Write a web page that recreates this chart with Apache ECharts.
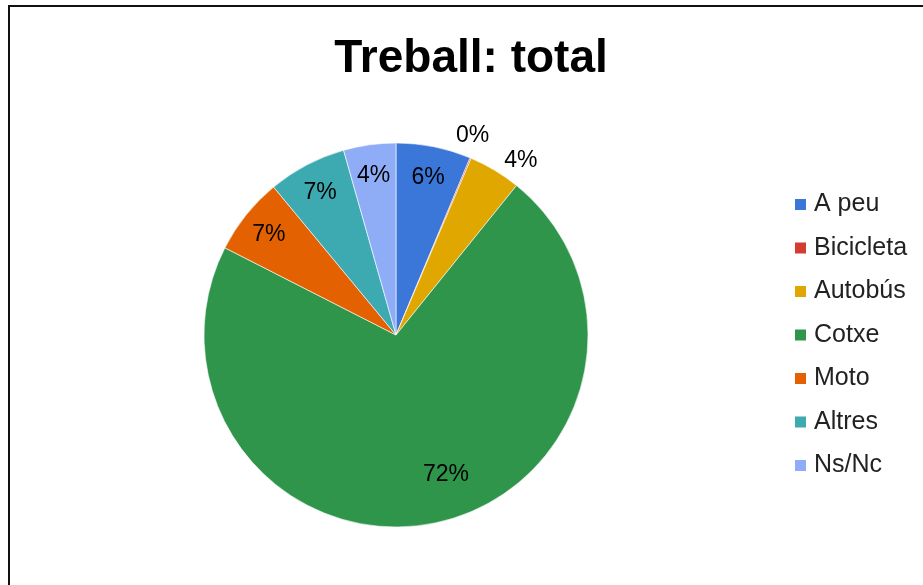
<!DOCTYPE html>
<html>
<head>
<meta charset="utf-8">
<title>Treball: total</title>
<script src="https://cdn.jsdelivr.net/npm/echarts@6/dist/echarts.min.js"></script>
<style>
  html, body { margin: 0; padding: 0; background: #fff; }
  #chart { width: 923px; height: 585px; }
</style>
</head>
<body>
<div id="chart"></div>
<script>
// Mode of transport used to get to work (share of total, %)
const categories = ['A peu', 'Bicicleta', 'Autobús', 'Cotxe', 'Moto', 'Altres', 'Ns/Nc'];
const shares = [6.3, 0.1, 4.4, 71.7, 6.5, 6.6, 4.4];
const colors = ['#3b76d9', '#d23c31', '#e0a700', '#2f954b', '#e36100', '#3da9b0', '#8fadf7'];
// slices too thin to hold their own label get it placed just outside the pie
const outsideLabel = ['Bicicleta', 'Autobús'];

const titleText = 'Treball: total';
const FONT = 'Liberation Sans, Arial, sans-serif';
const LABEL_SIZE = 23;

const chart = echarts.init(document.getElementById('chart'), null, { renderer: 'canvas' });

const pctLabel = p => Math.round(p.percent) + '%';

// small nudges so the outside texts and the big slice's text sit where they read best
const labelNudge = { 'Bicicleta': [-25, -10], 'Autobús': [-19, -11], 'Cotxe': [16, -20] };

const pieData = categories.map((name, i) => ({
  name,
  value: shares[i],
  itemStyle: { color: colors[i] },
  label: outsideLabel.includes(name)
    ? { show: true, position: 'outside', formatter: pctLabel,
        color: '#000', fontSize: LABEL_SIZE, fontFamily: FONT,
        offset: labelNudge[name] || [0, 0] }
    : { show: false }
}));

// transparent ring used only to place the in-slice percentages along each bisector
const innerLabels = {
  type: 'pie',
  silent: true,
  center: [396, 335],
  radius: [128, 192],
  startAngle: 90,
  clockwise: true,
  legendHoverLink: false,
  emphasis: { disabled: true },
  labelLine: { show: false },
  data: categories.map((name, i) => ({
    name,
    value: shares[i],
    itemStyle: { color: 'rgba(0,0,0,0)', borderWidth: 0 },
    label: {
      show: !outsideLabel.includes(name),
      position: 'inside',
      formatter: pctLabel,
      color: '#000',
      fontSize: LABEL_SIZE,
      fontFamily: FONT,
      offset: labelNudge[name] || [0, 2]
    }
  }))
};

chart.setOption({
  animation: false,
  backgroundColor: '#fff',
  title: {
    text: titleText,
    left: 466,
    top: 31,
    textAlign: 'center',
    textStyle: { fontSize: 46, fontWeight: 'bold', color: '#000', fontFamily: FONT }
  },
  legend: {
    orient: 'vertical',
    left: 793,
    top: 192,
    padding: 0,
    itemWidth: 13,
    itemHeight: 13,
    itemGap: 18.5,
    icon: 'rect',
    selectedMode: false,
    data: categories,
    textStyle: { fontSize: 25, color: '#222', fontFamily: FONT, padding: [0, 0, 0, 2] }
  },
  graphic: [{
    type: 'rect',
    silent: true,
    shape: { x: 9, y: 6, width: 1000, height: 700 },
    style: { fill: 'none', stroke: '#111', lineWidth: 2 }
  }],
  series: [
    {
      type: 'pie',
      center: [396, 335],
      radius: [0, 192],
      startAngle: 90,
      clockwise: true,
      avoidLabelOverlap: true,
      labelLine: { show: false, length: 14, length2: 0 },
      itemStyle: { borderColor: '#fff', borderWidth: 0.6 },
      data: pieData
    },
    innerLabels
  ]
});
</script>
</body>
</html>
